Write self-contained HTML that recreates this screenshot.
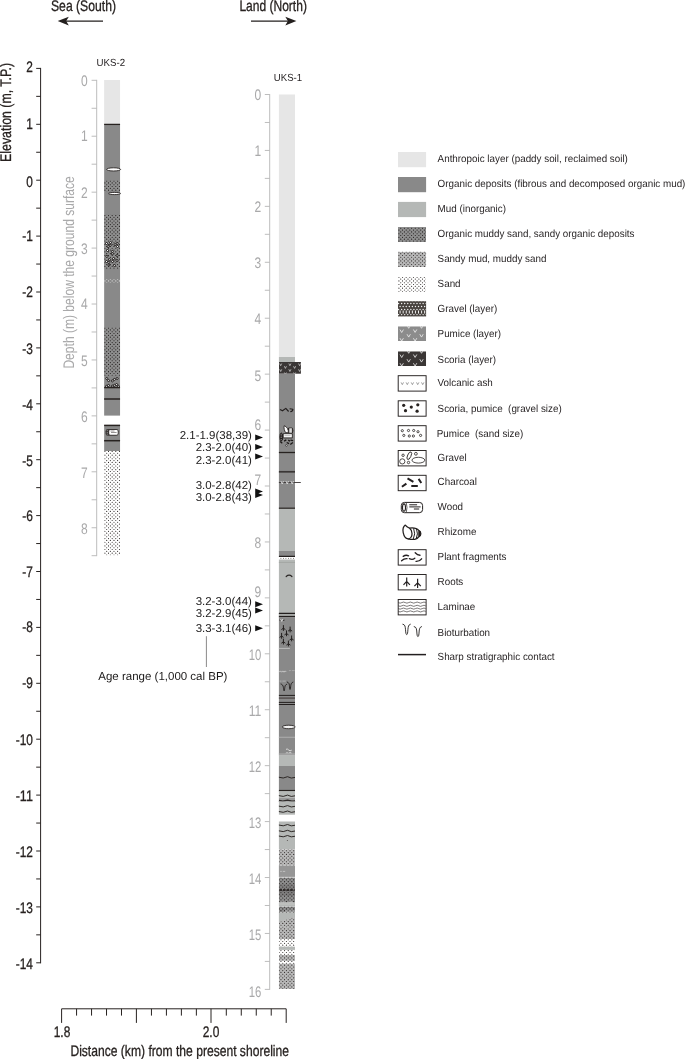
<!DOCTYPE html>
<html lang="en"><head><meta charset="utf-8"><title>UKS core columns</title>
<style>html,body{margin:0;padding:0;background:#fff}svg{display:block}text{font-family:"Liberation Sans",sans-serif}</style>
</head><body>
<svg width="685" height="1059" viewBox="0 0 685 1059" text-rendering="geometricPrecision">
<rect width="685" height="1059" fill="#fff"/>
<text x="51" y="10.7" font-size="15.3" fill="#272220" stroke="#272220" stroke-width="0.3" text-anchor="start" textLength="65" lengthAdjust="spacingAndGlyphs">Sea (South)</text>
<text x="239.4" y="10.7" font-size="15.3" fill="#272220" stroke="#272220" stroke-width="0.3" text-anchor="start" textLength="67.5" lengthAdjust="spacingAndGlyphs">Land (North)</text>
<path d="M103 21.1H64" stroke="#231f1e" stroke-width="1.3" fill="none"/><path d="M57.7 21.1L68.8 16.8L66.2 21.1L68.8 25.4Z" fill="#231f1e"/>
<path d="M251 21.1H290" stroke="#231f1e" stroke-width="1.3" fill="none"/><path d="M296.4 21.1L285.3 16.8L287.9 21.1L285.3 25.4Z" fill="#231f1e"/>
<path d="M40.6 67.9V963.3M36.2 68.40H40.6M36.2 96.35H40.6M36.2 124.30H40.6M36.2 152.25H40.6M36.2 180.20H40.6M36.2 208.15H40.6M36.2 236.10H40.6M36.2 264.05H40.6M36.2 292.00H40.6M36.2 319.95H40.6M36.2 347.90H40.6M36.2 375.85H40.6M36.2 403.80H40.6M36.2 431.75H40.6M36.2 459.70H40.6M36.2 487.65H40.6M36.2 515.60H40.6M36.2 543.55H40.6M36.2 571.50H40.6M36.2 599.45H40.6M36.2 627.40H40.6M36.2 655.35H40.6M36.2 683.30H40.6M36.2 711.25H40.6M36.2 739.20H40.6M36.2 767.15H40.6M36.2 795.10H40.6M36.2 823.05H40.6M36.2 851.00H40.6M36.2 878.95H40.6M36.2 906.90H40.6M36.2 934.85H40.6M36.2 962.80H40.6" stroke="#272220" stroke-width="1" fill="none"/>
<text x="32.9" y="72.0" font-size="15.3" fill="#272220" stroke="#272220" stroke-width="0.3" text-anchor="end" textLength="6.6" lengthAdjust="spacingAndGlyphs">2</text>
<text x="32.9" y="128.9" font-size="15.3" fill="#272220" stroke="#272220" stroke-width="0.3" text-anchor="end" textLength="6.6" lengthAdjust="spacingAndGlyphs">1</text>
<text x="32.9" y="186.6" font-size="15.3" fill="#272220" stroke="#272220" stroke-width="0.3" text-anchor="end" textLength="6.6" lengthAdjust="spacingAndGlyphs">0</text>
<text x="32.9" y="241.1" font-size="15.3" fill="#272220" stroke="#272220" stroke-width="0.3" text-anchor="end" textLength="10.6" lengthAdjust="spacingAndGlyphs">-1</text>
<text x="32.9" y="297.0" font-size="15.3" fill="#272220" stroke="#272220" stroke-width="0.3" text-anchor="end" textLength="10.6" lengthAdjust="spacingAndGlyphs">-2</text>
<text x="32.9" y="353.8" font-size="15.3" fill="#272220" stroke="#272220" stroke-width="0.3" text-anchor="end" textLength="10.6" lengthAdjust="spacingAndGlyphs">-3</text>
<text x="32.9" y="409.9" font-size="15.3" fill="#272220" stroke="#272220" stroke-width="0.3" text-anchor="end" textLength="10.6" lengthAdjust="spacingAndGlyphs">-4</text>
<text x="32.9" y="465.6" font-size="15.3" fill="#272220" stroke="#272220" stroke-width="0.3" text-anchor="end" textLength="10.6" lengthAdjust="spacingAndGlyphs">-5</text>
<text x="32.9" y="521.2" font-size="15.3" fill="#272220" stroke="#272220" stroke-width="0.3" text-anchor="end" textLength="10.6" lengthAdjust="spacingAndGlyphs">-6</text>
<text x="32.9" y="577.1" font-size="15.3" fill="#272220" stroke="#272220" stroke-width="0.3" text-anchor="end" textLength="10.6" lengthAdjust="spacingAndGlyphs">-7</text>
<text x="32.9" y="632.2" font-size="15.3" fill="#272220" stroke="#272220" stroke-width="0.3" text-anchor="end" textLength="10.6" lengthAdjust="spacingAndGlyphs">-8</text>
<text x="32.9" y="688.3" font-size="15.3" fill="#272220" stroke="#272220" stroke-width="0.3" text-anchor="end" textLength="10.6" lengthAdjust="spacingAndGlyphs">-9</text>
<text x="32.9" y="745.1" font-size="15.3" fill="#272220" stroke="#272220" stroke-width="0.3" text-anchor="end" textLength="17.2" lengthAdjust="spacingAndGlyphs">-10</text>
<text x="32.9" y="801.2" font-size="15.3" fill="#272220" stroke="#272220" stroke-width="0.3" text-anchor="end" textLength="17.2" lengthAdjust="spacingAndGlyphs">-11</text>
<text x="32.9" y="857.1" font-size="15.3" fill="#272220" stroke="#272220" stroke-width="0.3" text-anchor="end" textLength="17.2" lengthAdjust="spacingAndGlyphs">-12</text>
<text x="32.9" y="912.5" font-size="15.3" fill="#272220" stroke="#272220" stroke-width="0.3" text-anchor="end" textLength="17.2" lengthAdjust="spacingAndGlyphs">-13</text>
<text x="32.9" y="968.6" font-size="15.3" fill="#272220" stroke="#272220" stroke-width="0.3" text-anchor="end" textLength="17.2" lengthAdjust="spacingAndGlyphs">-14</text>
<text transform="translate(11.0 161.9) rotate(-90)" font-size="15.3" fill="#272220" stroke="#272220" stroke-width="0.3" textLength="99" lengthAdjust="spacingAndGlyphs">Elevation (m, T.P.)</text>
<path d="M61.6 1022.9V1008.8H286.2V1022.9M136.4 1008.8V1022.9M211 1008.8V1022.9M76.57 1008.8V1015.6M91.55 1008.8V1015.6M106.52 1008.8V1015.6M121.49 1008.8V1015.6M151.44 1008.8V1015.6M166.41 1008.8V1015.6M181.38 1008.8V1015.6M196.36 1008.8V1015.6M226.30 1008.8V1015.6M241.28 1008.8V1015.6M256.25 1008.8V1015.6M271.22 1008.8V1015.6" stroke="#272220" stroke-width="1" fill="none"/>
<text x="62" y="1037.1" font-size="15.3" fill="#272220" stroke="#272220" stroke-width="0.3" text-anchor="middle" textLength="16.6" lengthAdjust="spacingAndGlyphs">1.8</text>
<text x="211" y="1037.1" font-size="15.3" fill="#272220" stroke="#272220" stroke-width="0.3" text-anchor="middle" textLength="16.6" lengthAdjust="spacingAndGlyphs">2.0</text>
<text x="70.4" y="1055.8" font-size="15.3" fill="#272220" stroke="#272220" stroke-width="0.3" text-anchor="start" textLength="218.6" lengthAdjust="spacingAndGlyphs">Distance (km) from the present shoreline</text>
<path d="M96.7 79.89999999999999V556.1049999999999M91.6 80.30H96.7M91.6 108.27H96.7M91.6 136.23H96.7M91.6 164.19H96.7M91.6 192.16H96.7M91.6 220.12H96.7M91.6 248.09H96.7M91.6 276.06H96.7M91.6 304.02H96.7M91.6 331.99H96.7M91.6 359.95H96.7M91.6 387.92H96.7M91.6 415.88H96.7M91.6 443.85H96.7M91.6 471.81H96.7M91.6 499.78H96.7M91.6 527.74H96.7M91.6 555.70H96.7" stroke="#b5b5b6" stroke-width="0.9" fill="none"/>
<text x="87.6" y="85.5" font-size="15.3" fill="#a9a9aa" text-anchor="end" textLength="6.7" lengthAdjust="spacingAndGlyphs">0</text>
<text x="87.6" y="141.43" font-size="15.3" fill="#a9a9aa" text-anchor="end" textLength="6.7" lengthAdjust="spacingAndGlyphs">1</text>
<text x="87.6" y="197.56" font-size="15.3" fill="#a9a9aa" text-anchor="end" textLength="6.7" lengthAdjust="spacingAndGlyphs">2</text>
<text x="87.6" y="253.79" font-size="15.3" fill="#a9a9aa" text-anchor="end" textLength="6.7" lengthAdjust="spacingAndGlyphs">3</text>
<text x="87.6" y="309.42" font-size="15.3" fill="#a9a9aa" text-anchor="end" textLength="6.7" lengthAdjust="spacingAndGlyphs">4</text>
<text x="87.6" y="366.05" font-size="15.3" fill="#a9a9aa" text-anchor="end" textLength="6.7" lengthAdjust="spacingAndGlyphs">5</text>
<text x="87.6" y="422.28" font-size="15.3" fill="#a9a9aa" text-anchor="end" textLength="6.7" lengthAdjust="spacingAndGlyphs">6</text>
<text x="87.6" y="478.21" font-size="15.3" fill="#a9a9aa" text-anchor="end" textLength="6.7" lengthAdjust="spacingAndGlyphs">7</text>
<text x="87.6" y="533.64" font-size="15.3" fill="#a9a9aa" text-anchor="end" textLength="6.7" lengthAdjust="spacingAndGlyphs">8</text>
<text transform="translate(73.9 368.6) rotate(-90)" font-size="15.3" fill="#a9a9aa" textLength="192.4" lengthAdjust="spacingAndGlyphs">Depth (m) below the ground surface</text>
<text x="96.5" y="66.0" font-size="10.3" fill="#231f20" textLength="28.6" lengthAdjust="spacingAndGlyphs">UKS-2</text>
<path d="M269.7 94.1V989.78M264.8 94.50H269.7M264.8 122.47H269.7M264.8 150.43H269.7M264.8 178.39H269.7M264.8 206.36H269.7M264.8 234.32H269.7M264.8 262.29H269.7M264.8 290.25H269.7M264.8 318.22H269.7M264.8 346.19H269.7M264.8 374.15H269.7M264.8 402.12H269.7M264.8 430.08H269.7M264.8 458.05H269.7M264.8 486.01H269.7M264.8 513.98H269.7M264.8 541.94H269.7M264.8 569.90H269.7M264.8 597.87H269.7M264.8 625.84H269.7M264.8 653.80H269.7M264.8 681.76H269.7M264.8 709.73H269.7M264.8 737.70H269.7M264.8 765.66H269.7M264.8 793.62H269.7M264.8 821.59H269.7M264.8 849.55H269.7M264.8 877.52H269.7M264.8 905.49H269.7M264.8 933.45H269.7M264.8 961.41H269.7M264.8 989.38H269.7" stroke="#b5b5b6" stroke-width="0.9" fill="none"/>
<text x="261.3" y="99.9" font-size="15.3" fill="#a9a9aa" text-anchor="end" textLength="6.7" lengthAdjust="spacingAndGlyphs">0</text>
<text x="261.3" y="155.83" font-size="15.3" fill="#a9a9aa" text-anchor="end" textLength="6.7" lengthAdjust="spacingAndGlyphs">1</text>
<text x="261.3" y="212.26" font-size="15.3" fill="#a9a9aa" text-anchor="end" textLength="6.7" lengthAdjust="spacingAndGlyphs">2</text>
<text x="261.3" y="268.19" font-size="15.3" fill="#a9a9aa" text-anchor="end" textLength="6.7" lengthAdjust="spacingAndGlyphs">3</text>
<text x="261.3" y="323.92" font-size="15.3" fill="#a9a9aa" text-anchor="end" textLength="6.7" lengthAdjust="spacingAndGlyphs">4</text>
<text x="261.3" y="380.55" font-size="15.3" fill="#a9a9aa" text-anchor="end" textLength="6.7" lengthAdjust="spacingAndGlyphs">5</text>
<text x="261.3" y="429.98" font-size="15.3" fill="#a9a9aa" text-anchor="end" textLength="6.7" lengthAdjust="spacingAndGlyphs">6</text>
<text x="261.3" y="485.41" font-size="15.3" fill="#a9a9aa" text-anchor="end" textLength="6.7" lengthAdjust="spacingAndGlyphs">7</text>
<text x="261.3" y="547.84" font-size="15.3" fill="#a9a9aa" text-anchor="end" textLength="6.7" lengthAdjust="spacingAndGlyphs">8</text>
<text x="261.3" y="597.37" font-size="15.3" fill="#a9a9aa" text-anchor="end" textLength="6.7" lengthAdjust="spacingAndGlyphs">9</text>
<text x="261.3" y="659.7" font-size="15.3" fill="#a9a9aa" text-anchor="end" textLength="12.6" lengthAdjust="spacingAndGlyphs">10</text>
<text x="261.3" y="715.63" font-size="15.3" fill="#a9a9aa" text-anchor="end" textLength="12.6" lengthAdjust="spacingAndGlyphs">11</text>
<text x="261.3" y="771.56" font-size="15.3" fill="#a9a9aa" text-anchor="end" textLength="12.6" lengthAdjust="spacingAndGlyphs">12</text>
<text x="261.3" y="827.89" font-size="15.3" fill="#a9a9aa" text-anchor="end" textLength="12.6" lengthAdjust="spacingAndGlyphs">13</text>
<text x="261.3" y="884.02" font-size="15.3" fill="#a9a9aa" text-anchor="end" textLength="12.6" lengthAdjust="spacingAndGlyphs">14</text>
<text x="261.3" y="940.45" font-size="15.3" fill="#a9a9aa" text-anchor="end" textLength="12.6" lengthAdjust="spacingAndGlyphs">15</text>
<text x="261.3" y="996.98" font-size="15.3" fill="#a9a9aa" text-anchor="end" textLength="12.6" lengthAdjust="spacingAndGlyphs">16</text>
<text x="273.8" y="80.5" font-size="10.3" fill="#231f20" textLength="28.4" lengthAdjust="spacingAndGlyphs">UKS-1</text>
<g id="uks2">
<rect x="104.15" y="80.00" width="15.90" height="44.20" fill="#e6e6e6"/>
<rect x="104.15" y="124.20" width="15.90" height="291.40" fill="#898989"/>
<svg x="104.15" y="180.60" width="15.90" height="10.60" viewBox="104.15 180.60 15.90 10.60"><rect x="104.15" y="180.60" width="15.90" height="10.60" fill="#8e8e8e"/><path d="M101.27 179.25H121.05M103.09 181.06H121.05M101.27 182.88H121.05M103.09 184.70H121.05M101.27 186.51H121.05M103.09 188.33H121.05M101.27 190.14H121.05M103.09 191.96H121.05M101.27 193.77H121.05" fill="none" stroke="#1f1b1a" stroke-width="1.15" stroke-linecap="round" stroke-dasharray="0 3.63"/></svg>
<svg x="104.15" y="214.70" width="15.90" height="54.10" viewBox="104.15 214.70 15.90 54.10"><rect x="104.15" y="214.70" width="15.90" height="54.10" fill="#8e8e8e"/><path d="M101.27 211.92H121.05M103.09 213.74H121.05M101.27 215.55H121.05M103.09 217.37H121.05M101.27 219.18H121.05M103.09 221.00H121.05M101.27 222.81H121.05M103.09 224.62H121.05M101.27 226.44H121.05M103.09 228.26H121.05M101.27 230.07H121.05M103.09 231.89H121.05M101.27 233.70H121.05M103.09 235.52H121.05M101.27 237.33H121.05M103.09 239.15H121.05M101.27 240.96H121.05M103.09 242.78H121.05M101.27 244.59H121.05M103.09 246.41H121.05M101.27 248.22H121.05M103.09 250.04H121.05M101.27 251.85H121.05M103.09 253.67H121.05M101.27 255.48H121.05M103.09 257.30H121.05M101.27 259.11H121.05M103.09 260.93H121.05M101.27 262.74H121.05M103.09 264.56H121.05M101.27 266.37H121.05M103.09 268.19H121.05M101.27 270.00H121.05" fill="none" stroke="#1f1b1a" stroke-width="1.15" stroke-linecap="round" stroke-dasharray="0 3.63"/></svg>
<svg x="104.15" y="279.00" width="15.90" height="3.60" viewBox="104.15 279.00 15.90 3.60"><path d="M101.27 277.26H121.05M103.09 279.07H121.05M101.27 280.89H121.05M103.09 282.71H121.05M101.27 284.52H121.05" fill="none" stroke="#d8d8d8" stroke-width="1.3" stroke-linecap="round" stroke-dasharray="0 3.63"/></svg>
<svg x="104.15" y="327.40" width="15.90" height="48.40" viewBox="104.15 327.40 15.90 48.40"><rect x="104.15" y="327.40" width="15.90" height="48.40" fill="#8e8e8e"/><path d="M103.09 326.26H121.05M101.27 328.08H121.05M103.09 329.89H121.05M101.27 331.71H121.05M103.09 333.52H121.05M101.27 335.34H121.05M103.09 337.15H121.05M101.27 338.97H121.05M103.09 340.79H121.05M101.27 342.60H121.05M103.09 344.42H121.05M101.27 346.23H121.05M103.09 348.05H121.05M101.27 349.86H121.05M103.09 351.68H121.05M101.27 353.49H121.05M103.09 355.31H121.05M101.27 357.12H121.05M103.09 358.94H121.05M101.27 360.75H121.05M103.09 362.56H121.05M101.27 364.38H121.05M103.09 366.19H121.05M101.27 368.01H121.05M103.09 369.83H121.05M101.27 371.64H121.05M103.09 373.46H121.05M101.27 375.27H121.05M103.09 377.09H121.05" fill="none" stroke="#1f1b1a" stroke-width="1.15" stroke-linecap="round" stroke-dasharray="0 3.63"/></svg>
<path d="M104.15 124.40H120.05" stroke="#272220" stroke-width="1.3" fill="none"/>
<ellipse cx="113.6" cy="169.4" rx="7.0" ry="1.6" fill="#fff" stroke="#2a2625" stroke-width="0.9"/>
<ellipse cx="114.5" cy="193.5" rx="6.1" ry="1.1" fill="#fff" stroke="#2a2625" stroke-width="0.9"/>
<g fill="#fff" stroke="#1c1817" stroke-width="1.0"><circle cx="106.5" cy="243.5" r="1.0"/><circle cx="110.5" cy="242.6" r="1.0"/><circle cx="110.2" cy="245.3" r="1.0"/><circle cx="108.2" cy="246.6" r="1.0"/><circle cx="115.1" cy="244.6" r="1.0"/><circle cx="117.2" cy="243.5" r="1.0"/><circle cx="117.5" cy="246.5" r="1.0"/><circle cx="107.5" cy="250.5" r="1.0"/><circle cx="112.3" cy="251.5" r="1.0"/><circle cx="112.4" cy="253.8" r="1.0"/><circle cx="106.9" cy="256.4" r="1.0"/><circle cx="117.1" cy="255.5" r="1.0"/><circle cx="113.5" cy="258.6" r="1.0"/><circle cx="109.4" cy="259.7" r="1.0"/><circle cx="117.0" cy="260.5" r="1.0"/><circle cx="106.5" cy="261.5" r="1.0"/><circle cx="112.6" cy="261.5" r="1.0"/><circle cx="108.8" cy="262.5" r="1.0"/><circle cx="108.9" cy="265.0" r="1.0"/><circle cx="114.4" cy="265.4" r="1.0"/></g>
<g fill="#fff" stroke="#1c1817" stroke-width="1.0"><circle cx="106.75" cy="378.5" r="1.0"/><circle cx="108.6" cy="380.6" r="1.0"/><circle cx="112.4" cy="380.9" r="1.0"/><circle cx="114.4" cy="379.4" r="1.0"/><circle cx="117.1" cy="378.5" r="1.0"/><circle cx="106.5" cy="386.3" r="1.0"/><circle cx="108.5" cy="385.4" r="1.0"/><circle cx="112.4" cy="386.1" r="1.0"/><circle cx="114.4" cy="385.3" r="1.0"/><circle cx="116.6" cy="384.5" r="1.0"/><circle cx="118.4" cy="386.3" r="1.0"/></g>
<path d="M104.15 387.60H120.05" stroke="#272220" stroke-width="1.4" fill="none"/>
<path d="M104.15 399.00H120.05" stroke="#272220" stroke-width="1.5" fill="none"/>
<rect x="104.15" y="425.00" width="15.90" height="26.00" fill="#898989"/>
<path d="M104.15 425.40H120.05" stroke="#272220" stroke-width="1.5" fill="none"/>
<path d="M104.15 440.70H120.05" stroke="#272220" stroke-width="1.5" fill="none"/>
<rect x="105.600" y="428.900" width="13.000" height="6.900" rx="2.400" fill="#3a3635"/><rect x="109.200" y="429.900" width="8.500" height="4.900" rx="1.000" fill="#fff"/><path d="M110.500 431.000H114.500M111.000 432.500H116.600" stroke="#6a6665" stroke-width="0.7" fill="none"/><path d="M107.300 430.300V434.600" stroke="#bdbdbd" stroke-width="0.8" stroke-dasharray="0.8 0.9" fill="none"/>
<svg x="104.15" y="450.90" width="15.90" height="104.40" viewBox="104.15 450.90 15.90 104.40"><rect x="104.15" y="450.90" width="15.90" height="104.40" fill="#fff"/><path d="M103.09 449.69H121.05M101.27 451.50H121.05M103.09 453.31H121.05M101.27 455.13H121.05M103.09 456.94H121.05M101.27 458.76H121.05M103.09 460.58H121.05M101.27 462.39H121.05M103.09 464.21H121.05M101.27 466.02H121.05M103.09 467.84H121.05M101.27 469.65H121.05M103.09 471.47H121.05M101.27 473.28H121.05M103.09 475.10H121.05M101.27 476.91H121.05M103.09 478.73H121.05M101.27 480.54H121.05M103.09 482.36H121.05M101.27 484.17H121.05M103.09 485.99H121.05M101.27 487.80H121.05M103.09 489.62H121.05M101.27 491.43H121.05M103.09 493.25H121.05M101.27 495.06H121.05M103.09 496.88H121.05M101.27 498.69H121.05M103.09 500.50H121.05M101.27 502.32H121.05M103.09 504.13H121.05M101.27 505.95H121.05M103.09 507.76H121.05M101.27 509.58H121.05M103.09 511.39H121.05M101.27 513.21H121.05M103.09 515.02H121.05M101.27 516.84H121.05M103.09 518.65H121.05M101.27 520.47H121.05M103.09 522.29H121.05M101.27 524.10H121.05M103.09 525.91H121.05M101.27 527.73H121.05M103.09 529.55H121.05M101.27 531.36H121.05M103.09 533.17H121.05M101.27 534.99H121.05M103.09 536.81H121.05M101.27 538.62H121.05M103.09 540.43H121.05M101.27 542.25H121.05M103.09 544.07H121.05M101.27 545.88H121.05M103.09 547.69H121.05M101.27 549.51H121.05M103.09 551.33H121.05M101.27 553.14H121.05M103.09 554.95H121.05M101.27 556.77H121.05" fill="none" stroke="#2b2625" stroke-width="1.12" stroke-linecap="round" stroke-dasharray="0 3.63"/></svg>
</g>
<g id="uks1">
<rect x="278.90" y="94.50" width="16.10" height="262.60" fill="#e6e6e6"/>
<rect x="278.90" y="357.00" width="16.10" height="5.20" fill="#b5b8b6"/>
<rect x="278.90" y="374.00" width="16.10" height="134.50" fill="#898989"/>
<rect x="279.00" y="362.00" width="21.90" height="11.70" fill="#3a3635"/>
<svg x="279" y="362" width="21.9" height="11.7" viewBox="279 362 21.9 11.7"><path d="M279.65 363.50L280.70 365.70L281.75 363.50M288.85 363.50L289.90 365.70L290.95 363.50M298.55 363.50L299.60 365.70L300.65 363.50M284.35 366.20L285.40 368.40L286.45 366.20M293.55 366.20L294.60 368.40L295.65 366.20M279.65 369.30L280.70 371.50L281.75 369.30M288.85 369.30L289.90 371.50L290.95 369.30M298.55 369.30L299.60 371.50L300.65 369.30M284.35 372.50L285.40 374.70L286.45 372.50M293.55 372.50L294.60 374.70L295.65 372.50" fill="none" stroke="#e4e4e4" stroke-width="0.65"/></svg>
<path d="M280.0 409.4L282.5 410.8L285.8 408.4L288.6 411.5M289.6 408.7L292.9 409.2Q293 411 290.3 411.8" fill="none" stroke="#231f1e" stroke-width="1.15" stroke-linejoin="round"/>
<g stroke="#231f1e" stroke-width="0.85" fill="#fff" stroke-linejoin="round"><path d="M288.6 428.0L292.2 428.0Q293.6 430.4 292.4 432.9L288.4 432.9Z" fill="#231f1e"/><path d="M289.3 428.3h2.6v4.4h-2.6z" stroke="none"/><path d="M289.9 428.3v4.4M290.8 428.3v4.4M291.6 428.3v4.4" fill="none" stroke="#8a8a8a" stroke-width="0.35"/><path d="M284.2 425.7C286.6 426.4 288.7 429.4 288.4 432.8L285.6 432.6C284.3 430.6 283.7 428 284.2 425.700Z"/><ellipse cx="281.3" cy="437.0" rx="1.4" ry="4.1" fill="#231f1e"/><path d="M281.2 433.9V440.4" fill="none" stroke="#fff" stroke-width="0.7" stroke-dasharray="0.7 1.0"/><rect x="283.2" y="433.7" width="9.1" height="4.2" stroke-width="0.9"/><path d="M284.4 435.7H290.6" fill="none" stroke="#777" stroke-width="0.5"/><circle cx="286.4" cy="445.5" r="0.85" stroke-width="0.7"/></g>
<path d="M280.1 441.5L282.3 443.2M284.1 441.1L286.3 439.9M286.7 442.5L289.1 443.7M288.2 440.1L290.0 441.1M290.3 444.4L292.9 442.5M290.5 440.1L293.1 440.600" fill="none" stroke="#1c1817" stroke-width="1.3"/>
<path d="M278.90 452.50H295.00" stroke="#272220" stroke-width="1.3" fill="none"/>
<path d="M278.90 471.80H295.00" stroke="#3a3635" stroke-width="1.7" fill="none"/>
<path d="M278.90 482.50H300.80" stroke="#3a3635" stroke-width="0.9" fill="none"/>
<path d="M280.900 481.000l1.300 3.000l1.300-3.000M285.900 481.000l1.300 3.000l1.300-3.000M290.900 481.000l1.300 3.000l1.300-3.000" fill="none" stroke="#e6e6e6" stroke-width="0.8"/>
<path d="M278.90 508.30H295.00" stroke="#272220" stroke-width="1.4" fill="none"/>
<rect x="278.90" y="508.80" width="16.10" height="43.00" fill="#b5b8b6"/>
<rect x="278.90" y="551.00" width="16.10" height="5.20" fill="#898989"/>
<path d="M278.90 556.40H295.00" stroke="#231f1e" stroke-width="1.3" fill="none"/>
<rect x="278.90" y="557.00" width="16.10" height="2.50" fill="#fff"/>
<path d="M280.5 558.400H294" stroke="#272220" stroke-width="0.7" stroke-dasharray="0.8 1.700" fill="none"/>
<rect x="278.90" y="559.50" width="16.10" height="53.50" fill="#b5b8b6"/>
<path d="M278.90 562.40H295.00" stroke="#a2a4a2" stroke-width="0.9" fill="none"/>
<path d="M286.200 576.500q2.900-2.600 5.700 0" fill="none" stroke="#2a2625" stroke-width="1.2" stroke-linecap="round"/>
<rect x="278.90" y="613.00" width="16.10" height="141.50" fill="#898989"/>
<rect x="278.90" y="613.00" width="16.10" height="3.60" fill="#b0b2b0"/>
<rect x="278.90" y="616.80" width="16.10" height="1.20" fill="#a2a2a2"/>
<path d="M278.90 613.40H295.00" stroke="#231f1e" stroke-width="1.3" fill="none"/>
<path d="M278.90 616.50H295.00" stroke="#231f1e" stroke-width="1.3" fill="none"/>
<path d="M279.3 620.0l1.2 .5M283.0 620.5l1.600-.4" fill="none" stroke="#231f1e" stroke-width="0.8"/><path d="M280.7 619.1l1 2.300l1.100-2.400" fill="none" stroke="#eee" stroke-width="0.7"/>
<path d="M283.4 625.0999999999999V630.9M281.4 629.5999999999999L283.4 628.1999999999999L285.4 629.5999999999999M290.1 626.5999999999999V632.4M288.1 631.0999999999999L290.1 629.6999999999999L292.1 631.0999999999999M286.5 630.4V636.2M284.5 634.9L286.5 633.5L288.5 634.9M281.6 632.9V638.7M279.6 637.4L281.6 636.0L283.6 637.4M291.6 635.5V641.3000000000001M289.6 640.0L291.6 638.6L293.6 640.0M283.4 638.6999999999999V644.5M281.4 643.1999999999999L283.4 641.8L285.4 643.1999999999999M288.4 640.5999999999999V646.4M286.4 645.0999999999999L288.4 643.6999999999999L290.4 645.0999999999999" fill="none" stroke="#231f1e" stroke-width="1.0"/>
<path d="M278.90 648.40H289.90" stroke="#c2c2c2" stroke-width="0.9" fill="none"/>
<path d="M279.2 672.2l1.2-1.300l1.200 1.300l1.200-1.300l1.200 1.300l1.200-1.300l1 1" fill="none" stroke="#e2e2e2" stroke-width="0.7"/><path d="M288.9 670.600h2M291.800 670.600h3" fill="none" stroke="#b4b4b4" stroke-width="0.7"/>
<path d="M279.5 681.100h2M282.400 681.100h3.400" fill="none" stroke="#c8c8c8" stroke-width="0.6"/>
<path d="M281.0 684.000c1.500 .3 2.100 1.600 2.400 3.400c.3 1.800 .300 3.500 .700 3.500c.500 0 .400-1.700 .700-3.500c.300-1.800 .700-2.900 2.000-3.200M287.200 682.000c1.500 .3 2.000 1.600 2.200 3.300c.200 2.000 .200 4.200 .600 4.200c.500 0 .500-2.200 .800-4.100c.300-1.700 .800-2.900 2.100-3.300" fill="none" stroke="#231f1e" stroke-width="0.95" stroke-linecap="round"/>
<path d="M278.90 695.40H295.00" stroke="#231f1e" stroke-width="1.0" fill="none"/>
<path d="M278.90 698.10H295.00" stroke="#55504f" stroke-width="1.5" fill="none"/>
<path d="M278.90 702.40H295.00" stroke="#231f1e" stroke-width="1.0" fill="none"/>
<path d="M278.90 704.50H295.00" stroke="#231f1e" stroke-width="1.0" fill="none"/>
<ellipse cx="288.700" cy="726.950" rx="6.500" ry="1.750" fill="#f2f2f2" stroke="#2a2625" stroke-width="0.9"/>
<path d="M278.90 737.30H295.00" stroke="#a9a9a9" stroke-width="1.2" fill="none"/>
<path d="M286.000 749.300q1.500-.8 2.700 .7t3.000 .2" fill="none" stroke="#e4e4e4" stroke-width="0.9"/>
<path d="M285.200 753.600q1.700-2.600 3.400-.6q1.700-2.200 3.600 .6z" fill="#d0d0d0"/>
<path d="M278.90 753.90H295.00" stroke="#a8a8a8" stroke-width="1.0" fill="none"/>
<rect x="278.90" y="754.40" width="16.10" height="1.20" fill="#909090"/>
<rect x="278.90" y="755.40" width="16.10" height="10.70" fill="#b5b8b6"/>
<rect x="278.90" y="766.00" width="16.10" height="24.40" fill="#898989"/>
<path d="M278.90 777.24Q283.23 779.04 287.55 776.70Q291.27 779.04 295.00 777.42" fill="none" stroke="#272220" stroke-width="0.95"/>
<path d="M278.90 790.70H295.00" stroke="#272220" stroke-width="1.6" fill="none"/>
<rect x="278.90" y="791.20" width="16.10" height="6.50" fill="#b5b8b6"/>
<path d="M278.90 795.64Q283.23 797.44 287.55 795.10Q291.27 797.44 295.00 795.82" fill="none" stroke="#272220" stroke-width="0.95"/>
<rect x="278.90" y="797.60" width="16.10" height="2.60" fill="#9a9a9a"/>
<path d="M278.90 800.70Q283.23 801.70 287.55 800.40Q291.27 801.70 295.00 800.80" fill="none" stroke="#2f2b2a" stroke-width="1.8"/>
<rect x="278.90" y="801.40" width="16.10" height="13.30" fill="#b5b8b6"/>
<path d="M278.90 806.14Q283.23 807.94 287.55 805.60Q291.27 807.94 295.00 806.32M278.90 811.54Q283.23 813.34 287.55 811.00Q291.27 813.34 295.00 811.72" fill="none" stroke="#272220" stroke-width="0.95"/>
<rect x="278.90" y="821.50" width="16.10" height="27.80" fill="#b5b8b6"/>
<path d="M278.90 825.04Q283.23 826.84 287.55 824.50Q291.27 826.84 295.00 825.22M278.90 830.84Q283.23 832.64 287.55 830.30Q291.27 832.64 295.00 831.02M278.90 836.04Q283.23 837.84 287.55 835.50Q291.27 837.84 295.00 836.22" fill="none" stroke="#272220" stroke-width="0.95"/>
<circle cx="287.400" cy="840.500" r="0.6" fill="#5a5655"/>
<svg x="278.90" y="849.30" width="16.10" height="16.20" viewBox="278.90 849.30 16.10 16.20"><rect x="278.90" y="849.30" width="16.10" height="16.20" fill="#b8b8b8"/><path d="M275.51 847.17H296.00M277.32 848.98H296.00M275.51 850.80H296.00M277.32 852.62H296.00M275.51 854.43H296.00M277.32 856.24H296.00M275.51 858.06H296.00M277.32 859.88H296.00M275.51 861.69H296.00M277.32 863.50H296.00M275.51 865.32H296.00M277.32 867.13H296.00" fill="none" stroke="#2b2625" stroke-width="1.12" stroke-linecap="round" stroke-dasharray="0 3.63"/></svg>
<rect x="278.90" y="865.50" width="16.10" height="11.50" fill="#969696"/>
<path d="M280.200 871.400h1.600M282.800 871.400h2.400" stroke="#ddd" stroke-width="0.6" fill="none"/>
<path d="M278.90 877.00H295.00" stroke="#b8b8b8" stroke-width="0.6" fill="none"/>
<svg x="278.90" y="877.40" width="16.10" height="25.40" viewBox="278.90 877.40 16.10 25.40"><rect x="278.90" y="877.40" width="16.10" height="25.40" fill="#8e8e8e"/><path d="M275.51 876.21H296.00M277.32 878.03H296.00M275.51 879.84H296.00M277.32 881.65H296.00M275.51 883.47H296.00M277.32 885.29H296.00M275.51 887.10H296.00M277.32 888.91H296.00M275.51 890.73H296.00M277.32 892.55H296.00M275.51 894.36H296.00M277.32 896.17H296.00M275.51 897.99H296.00M277.32 899.81H296.00M275.51 901.62H296.00M277.32 903.43H296.00M275.51 905.25H296.00" fill="none" stroke="#1f1b1a" stroke-width="1.15" stroke-linecap="round" stroke-dasharray="0 3.63"/></svg>
<rect x="278.90" y="884.00" width="16.10" height="12.00" fill="#5a5655" opacity="0.28"/>
<path d="M279.400 890H294.600" stroke="#2f2b2a" stroke-width="2" stroke-dasharray="2.600 1" fill="none"/>
<path d="M281 902.200q2-1.600 4 0zM288 902.400q2.400-1.800 5 0z" fill="#cfcfcf"/>
<rect x="278.90" y="902.80" width="16.10" height="3.60" fill="#b5b8b6"/>
<path d="M278.90 904.00H295.00" stroke="#d0d0d0" stroke-width="0.6" fill="none"/>
<svg x="278.90" y="906.40" width="16.10" height="6.30" viewBox="278.90 906.40 16.10 6.30"><rect x="278.90" y="906.40" width="16.10" height="6.30" fill="#8e8e8e"/><path d="M275.51 905.25H296.00M277.32 907.07H296.00M275.51 908.88H296.00M277.32 910.69H296.00M275.51 912.51H296.00M277.32 914.33H296.00" fill="none" stroke="#1f1b1a" stroke-width="1.15" stroke-linecap="round" stroke-dasharray="0 3.63"/></svg>
<path d="M285.00 911.00H295.00" stroke="#c8c8c8" stroke-width="0.6" fill="none"/>
<rect x="278.90" y="912.70" width="16.10" height="9.40" fill="#b5b8b6"/>
<clipPath id="cpd"><path d="M278.9 922L295.0 916.600V939H278.9Z"/></clipPath><g clip-path="url(#cpd)"><svg x="278.90" y="916.00" width="16.10" height="23.00" viewBox="278.90 916.00 16.10 23.00"><rect x="278.90" y="916.00" width="16.10" height="23.00" fill="#b8b8b8"/><path d="M277.32 914.33H296.00M275.51 916.14H296.00M277.32 917.95H296.00M275.51 919.77H296.00M277.32 921.59H296.00M275.51 923.40H296.00M277.32 925.21H296.00M275.51 927.03H296.00M277.32 928.85H296.00M275.51 930.66H296.00M277.32 932.47H296.00M275.51 934.29H296.00M277.32 936.11H296.00M275.51 937.92H296.00M277.32 939.73H296.00M275.51 941.55H296.00" fill="none" stroke="#2b2625" stroke-width="1.12" stroke-linecap="round" stroke-dasharray="0 3.63"/></svg></g>
<path d="M278.9 922L295.0 916.600" stroke="#c4c4c4" stroke-width="0.4" fill="none"/>
<path d="M278.9 925.800L295.0 929.600" stroke="#c0c0c0" stroke-width="0.7" fill="none"/>
<svg x="278.90" y="939.00" width="16.10" height="7.80" viewBox="278.90 939.00 16.10 7.80"><rect x="278.90" y="939.00" width="16.10" height="7.80" fill="#fff"/><path d="M275.51 937.92H296.00M277.32 939.73H296.00M275.51 941.55H296.00M277.32 943.37H296.00M275.51 945.18H296.00M277.32 946.99H296.00M275.51 948.81H296.00" fill="none" stroke="#2b2625" stroke-width="1.12" stroke-linecap="round" stroke-dasharray="0 3.63"/></svg>
<rect x="278.90" y="946.70" width="16.10" height="3.20" fill="#b5b8b6"/>
<svg x="278.90" y="949.90" width="16.10" height="5.20" viewBox="278.90 949.90 16.10 5.20"><rect x="278.90" y="949.90" width="16.10" height="5.20" fill="#fff"/><path d="M275.51 948.81H296.00M277.32 950.62H296.00M275.51 952.44H296.00M277.32 954.25H296.00M275.51 956.07H296.00M277.32 957.88H296.00" fill="none" stroke="#2b2625" stroke-width="1.12" stroke-linecap="round" stroke-dasharray="0 3.63"/></svg>
<svg x="278.90" y="955.00" width="16.10" height="5.90" viewBox="278.90 955.00 16.10 5.90"><rect x="278.90" y="955.00" width="16.10" height="5.90" fill="#b8b8b8"/><path d="M275.51 952.44H296.00M277.32 954.25H296.00M275.51 956.07H296.00M277.32 957.88H296.00M275.51 959.70H296.00M277.32 961.52H296.00M275.51 963.33H296.00" fill="none" stroke="#2b2625" stroke-width="1.12" stroke-linecap="round" stroke-dasharray="0 3.63"/></svg>
<svg x="278.90" y="960.90" width="16.10" height="2.70" viewBox="278.90 960.90 16.10 2.70"><rect x="278.90" y="960.90" width="16.10" height="2.70" fill="#fff"/><path d="M275.51 959.70H296.00M277.32 961.52H296.00M275.51 963.33H296.00M277.32 965.14H296.00" fill="none" stroke="#2b2625" stroke-width="1.12" stroke-linecap="round" stroke-dasharray="0 3.63"/></svg>
<svg x="278.90" y="963.50" width="16.10" height="25.40" viewBox="278.90 963.50 16.10 25.40"><rect x="278.90" y="963.50" width="16.10" height="25.40" fill="#b8b8b8"/><path d="M277.32 961.52H296.00M275.51 963.33H296.00M277.32 965.14H296.00M275.51 966.96H296.00M277.32 968.78H296.00M275.51 970.59H296.00M277.32 972.40H296.00M275.51 974.22H296.00M277.32 976.04H296.00M275.51 977.85H296.00M277.32 979.66H296.00M275.51 981.48H296.00M277.32 983.30H296.00M275.51 985.11H296.00M277.32 986.92H296.00M275.51 988.74H296.00M277.32 990.56H296.00" fill="none" stroke="#2b2625" stroke-width="1.12" stroke-linecap="round" stroke-dasharray="0 3.63"/></svg>
</g>
<text x="251.9" y="438.6" font-size="11.5" fill="#1c1a1a" text-anchor="end">2.1-1.9(38,39)</text>
<text x="251.9" y="450.8" font-size="11.5" fill="#1c1a1a" text-anchor="end">2.3-2.0(40)</text>
<text x="251.9" y="463.9" font-size="11.5" fill="#1c1a1a" text-anchor="end">2.3-2.0(41)</text>
<text x="251.9" y="488.7" font-size="11.5" fill="#1c1a1a" text-anchor="end">3.0-2.8(42)</text>
<text x="251.9" y="500.7" font-size="11.5" fill="#1c1a1a" text-anchor="end">3.0-2.8(43)</text>
<text x="251.9" y="605.1" font-size="11.5" fill="#1c1a1a" text-anchor="end">3.2-3.0(44)</text>
<text x="251.9" y="616.9" font-size="11.5" fill="#1c1a1a" text-anchor="end">3.2-2.9(45)</text>
<text x="251.9" y="632.2" font-size="11.5" fill="#1c1a1a" text-anchor="end">3.3-3.1(46)</text>
<path d="M255.200 434.60L263 437.60L255.200 440.60ZM255.200 444.00L263 447.00L255.200 450.00ZM255.200 453.60L263 456.60L255.200 459.60ZM255.200 488.60L263 491.60L255.200 494.60ZM255.200 492.00L263 495.00L255.200 498.00ZM255.200 601.30L263 604.30L255.200 607.30ZM255.200 607.40L263 610.40L255.200 613.40ZM255.200 625.20L263 628.20L255.200 631.20Z" fill="#111"/>
<path d="M206.400 636.200V667" stroke="#595757" stroke-width="0.7" fill="none"/>
<text x="98.300" y="680.400" font-size="11.5" fill="#1c1a1a">Age range (1,000 cal BP)</text>
<g id="legend">
<text x="437.6" y="162.40" font-size="10.3" fill="#231f20" textLength="190.3" lengthAdjust="spacingAndGlyphs" xml:space="preserve">Anthropoic layer (paddy soil, reclaimed soil)</text>
<text x="437.6" y="187.10" font-size="10.3" fill="#231f20" textLength="247.8" lengthAdjust="spacingAndGlyphs" xml:space="preserve">Organic deposits (fibrous and decomposed organic mud)</text>
<text x="437.6" y="211.90" font-size="10.3" fill="#231f20" textLength="68.4" lengthAdjust="spacingAndGlyphs" xml:space="preserve">Mud (inorganic)</text>
<text x="437.6" y="236.70" font-size="10.3" fill="#231f20" textLength="196.9" lengthAdjust="spacingAndGlyphs" xml:space="preserve">Organic muddy sand, sandy organic deposits</text>
<text x="437.6" y="261.50" font-size="10.3" fill="#231f20" textLength="108.8" lengthAdjust="spacingAndGlyphs" xml:space="preserve">Sandy mud, muddy sand</text>
<text x="437.6" y="286.70" font-size="10.3" fill="#231f20" textLength="23.0" lengthAdjust="spacingAndGlyphs" xml:space="preserve">Sand</text>
<text x="437.6" y="311.60" font-size="10.3" fill="#231f20" textLength="59.6" lengthAdjust="spacingAndGlyphs" xml:space="preserve">Gravel (layer)</text>
<text x="437.6" y="337.40" font-size="10.3" fill="#231f20" textLength="63.4" lengthAdjust="spacingAndGlyphs" xml:space="preserve">Pumice (layer)</text>
<text x="437.6" y="362.60" font-size="10.3" fill="#231f20" textLength="58.5" lengthAdjust="spacingAndGlyphs" xml:space="preserve">Scoria (layer)</text>
<text x="437.6" y="385.80" font-size="10.3" fill="#231f20" textLength="55.2" lengthAdjust="spacingAndGlyphs" xml:space="preserve">Volcanic ash</text>
<text x="437.6" y="411.70" font-size="10.3" fill="#231f20" textLength="124.1" lengthAdjust="spacingAndGlyphs" xml:space="preserve">Scoria, pumice  (gravel size)</text>
<text x="436.8" y="436.50" font-size="10.3" fill="#231f20" textLength="86.4" lengthAdjust="spacingAndGlyphs" xml:space="preserve">Pumice  (sand size)</text>
<text x="437.6" y="461.00" font-size="10.3" fill="#231f20" textLength="29.0" lengthAdjust="spacingAndGlyphs" xml:space="preserve">Gravel</text>
<text x="437.6" y="485.30" font-size="10.3" fill="#231f20" textLength="39.4" lengthAdjust="spacingAndGlyphs" xml:space="preserve">Charcoal</text>
<text x="437.6" y="510.20" font-size="10.3" fill="#231f20" textLength="25.5" lengthAdjust="spacingAndGlyphs" xml:space="preserve">Wood</text>
<text x="437.6" y="535.00" font-size="10.3" fill="#231f20" textLength="38.8" lengthAdjust="spacingAndGlyphs" xml:space="preserve">Rhizome</text>
<text x="437.6" y="559.80" font-size="10.3" fill="#231f20" textLength="68.9" lengthAdjust="spacingAndGlyphs" xml:space="preserve">Plant fragments</text>
<text x="437.6" y="584.75" font-size="10.3" fill="#231f20" textLength="25.7" lengthAdjust="spacingAndGlyphs" xml:space="preserve">Roots</text>
<text x="437.6" y="609.50" font-size="10.3" fill="#231f20" textLength="37.7" lengthAdjust="spacingAndGlyphs" xml:space="preserve">Laminae</text>
<text x="437.6" y="635.80" font-size="10.3" fill="#231f20" textLength="52.5" lengthAdjust="spacingAndGlyphs" xml:space="preserve">Bioturbation</text>
<text x="437.6" y="659.80" font-size="10.3" fill="#231f20" textLength="117.0" lengthAdjust="spacingAndGlyphs" xml:space="preserve">Sharp stratigraphic contact</text>
<rect x="398.00" y="152.00" width="28.10" height="15.20" fill="#e6e6e6"/>
<rect x="398.00" y="177.00" width="28.10" height="15.20" fill="#898989"/>
<rect x="398.00" y="201.90" width="28.10" height="15.20" fill="#b5b8b6"/>
<svg x="398.00" y="226.90" width="28.10" height="15.20" viewBox="398.00 226.90 28.10 15.20"><rect x="398.00" y="226.90" width="28.10" height="15.20" fill="#8e8e8e"/><path d="M393.49 224.62H427.10M395.30 226.44H427.10M393.49 228.26H427.10M395.30 230.07H427.10M393.49 231.89H427.10M395.30 233.70H427.10M393.49 235.52H427.10M395.30 237.33H427.10M393.49 239.15H427.10M395.30 240.96H427.10M393.49 242.78H427.10M395.30 244.59H427.10" fill="none" stroke="#1f1b1a" stroke-width="1.15" stroke-linecap="round" stroke-dasharray="0 3.63"/></svg>
<svg x="398.00" y="251.70" width="28.10" height="15.20" viewBox="398.00 251.70 28.10 15.20"><rect x="398.00" y="251.70" width="28.10" height="15.20" fill="#b8b8b8"/><path d="M393.49 250.04H427.10M395.30 251.85H427.10M393.49 253.67H427.10M395.30 255.48H427.10M393.49 257.30H427.10M395.30 259.11H427.10M393.49 260.93H427.10M395.30 262.74H427.10M393.49 264.56H427.10M395.30 266.37H427.10M393.49 268.19H427.10" fill="none" stroke="#2b2625" stroke-width="1.12" stroke-linecap="round" stroke-dasharray="0 3.63"/></svg>
<svg x="398.00" y="276.90" width="28.10" height="15.20" viewBox="398.00 276.90 28.10 15.20"><rect x="398.00" y="276.90" width="28.10" height="15.20" fill="#fff"/><path d="M393.49 275.44H427.10M395.30 277.26H427.10M393.49 279.07H427.10M395.30 280.89H427.10M393.49 282.71H427.10M395.30 284.52H427.10M393.49 286.34H427.10M395.30 288.15H427.10M393.49 289.97H427.10M395.30 291.78H427.10M393.49 293.60H427.10" fill="none" stroke="#2b2625" stroke-width="1.12" stroke-linecap="round" stroke-dasharray="0 3.63"/></svg>
<rect x="398.00" y="301.20" width="28.10" height="15.20" fill="#48433f"/>
<svg x="398.0" y="301.20" width="28.1" height="15.2" viewBox="398.0 301.20 28.1 15.2"><path d="M398.57 303.4H427M400.1 306.45H427M398.57 309.5H427M398.57 314.6H427" fill="none" stroke="#f2f2f2" stroke-width="1.45" stroke-linecap="round" stroke-dasharray="0 3.07"/><path d="M400.1 301.3H427M398.57 316.4H427" fill="none" stroke="#9d9896" stroke-width="1.2" stroke-linecap="round" stroke-dasharray="0 3.07"/><path d="M399.6 312.0H427" fill="none" stroke="#f0f0f0" stroke-width="2.9" stroke-dasharray="1.0 2.07"/></svg>
<svg x="398.0" y="326.30" width="28.1" height="14.6" viewBox="398.0 326.30 28.1 14.6"><rect x="398.0" y="326.30" width="28.1" height="15.2" fill="#8c8c8c"/><path d="M407.00 325.40L408.70 328.30L410.40 325.40M419.80 325.40L421.50 328.30L423.20 325.40M400.00 329.60L401.70 332.50L403.40 329.60M413.40 329.50L415.10 332.40L416.80 329.50M407.00 334.20L408.70 337.10L410.40 334.20M419.80 334.20L421.50 337.10L423.20 334.20M400.00 338.20L401.70 341.10L403.40 338.20M413.40 338.20L415.10 341.10L416.80 338.20" fill="none" stroke="#f0f0f0" stroke-width="0.8"/></svg>
<svg x="398.0" y="351.30" width="28.1" height="14.6" viewBox="398.0 351.30 28.1 14.6"><rect x="398.0" y="351.30" width="28.1" height="15.2" fill="#3a3635"/><path d="M407.00 350.40L408.70 353.30L410.40 350.40M419.80 350.40L421.50 353.30L423.20 350.40M400.00 354.60L401.70 357.50L403.40 354.60M413.40 354.50L415.10 357.40L416.80 354.50M407.00 359.20L408.70 362.10L410.40 359.20M419.80 359.20L421.50 362.10L423.20 359.20M400.00 363.20L401.70 366.10L403.40 363.20M413.40 363.20L415.10 366.10L416.80 363.20" fill="none" stroke="#f0f0f0" stroke-width="0.8"/></svg>
<rect x="398.20" y="375.70" width="27.90" height="15.40" fill="#fff" stroke="#231f1e" stroke-width="0.95"/>
<path d="M401.10 382.40l1.200 2.200l1.200-2.200M406.10 382.40l1.200 2.200l1.200-2.200M411.20 382.40l1.200 2.200l1.200-2.200M416.50 382.40l1.200 2.200l1.200-2.200M421.50 382.40l1.200 2.200l1.200-2.200" fill="none" stroke="#6f6f6f" stroke-width="0.65"/>
<rect x="398.20" y="400.80" width="27.90" height="15.40" fill="#fff" stroke="#231f1e" stroke-width="0.95"/>
<g fill="#272220"><circle cx="403.7" cy="405.3" r="1.6"/><circle cx="411.3" cy="407.1" r="1.6"/><circle cx="417.8" cy="404.8" r="1.6"/><circle cx="405.5" cy="410.7" r="1.6"/><circle cx="417.1" cy="411.2" r="1.6"/></g>
<rect x="398.20" y="425.70" width="27.90" height="15.40" fill="#fff" stroke="#231f1e" stroke-width="0.95"/>
<g fill="#fff" stroke="#231f1e" stroke-width="0.8"><circle cx="402.3" cy="430.7" r="1.1"/><circle cx="408.5" cy="430.5" r="1.1"/><circle cx="413.7" cy="430.5" r="1.1"/><circle cx="418" cy="431.7" r="1.1"/><circle cx="403.8" cy="435.4" r="1.1"/><circle cx="409.3" cy="436" r="1.1"/><circle cx="413.4" cy="436" r="1.1"/><circle cx="420.6" cy="435.4" r="1.1"/></g>
<rect x="398.20" y="450.50" width="27.90" height="15.40" fill="#fff" stroke="#231f1e" stroke-width="0.95"/>
<g fill="#fff" stroke="#231f1e" stroke-width="0.8"><circle cx="403.100" cy="455.300" r="1.200"/><circle cx="402.300" cy="461.400" r="2.600"/><ellipse cx="409.300" cy="455.700" rx="1.700" ry="4.100" transform="rotate(24 409.300 455.700)"/><circle cx="415.900" cy="453.800" r="1.400"/><circle cx="408.500" cy="462.500" r="1.200"/><ellipse cx="418.400" cy="460.200" rx="6.400" ry="2.900"/></g>
<rect x="398.20" y="475.30" width="27.90" height="15.40" fill="#fff" stroke="#231f1e" stroke-width="0.95"/>
<path d="M407.500 478.300L413.400 481.800M418.600 478.900L421.300 483M401.900 486.800L406.400 483.600M411.300 485.900H417.800" stroke="#231f20" stroke-width="2.0" fill="none"/>
<g fill="#fff" stroke="#231f1e" stroke-width="1.0"><rect x="401.300" y="502.400" width="21.300" height="10.300" rx="3.2"/><ellipse cx="404.000" cy="507.550" rx="1.500" ry="3.700" stroke-width="1.1"/><path d="M406.300 503.000q1.400 4.500 0 9.100" fill="none" stroke-width="0.7"/><path d="M409.300 504.800H417.100M409.300 506.900H420.600M413.900 509H419.200" fill="none" stroke-width="1.0"/></g>
<g fill="#fff" stroke="#231f1e" stroke-width="1.25" stroke-linejoin="round"><path d="M418.900 530.700C421.500 531.600 421.500 535.700 418.900 536.600Z" fill="#231f1e"/><path d="M409.600 528.200C412.000 527.800 414.500 528.000 416.200 528.700C417.600 529.300 418.600 530.200 418.900 530.700L418.900 536.600C418.200 537.800 416.800 539.000 414.800 539.300C412.600 539.600 410.000 539.300 408.200 538.800Z"/><path d="M413.600 528.300Q415.900 533.800 413.200 539.300M416.500 529.000Q418.500 533.800 416.200 538.800" fill="none" stroke-width="1.0"/><path d="M405.300 525.100C403.600 526.400 402.600 529.600 403.200 532.600C403.900 536.000 405.600 538.600 408.200 538.800C410.600 538.900 412.100 536.400 412.000 533.400C411.900 530.800 411.000 529.200 409.600 528.200C407.800 527.400 406.400 526.600 405.300 525.100Z"/></g>
<rect x="398.20" y="549.70" width="27.90" height="15.40" fill="#fff" stroke="#231f1e" stroke-width="0.95"/>
<path d="M403.200 556.400q2.600-2 5.400-.6M401.600 560.800q2.400-2.400 5.400-2.200M409.400 558.600q3 1.600 5.400-.4M415.200 552.800q2.200 2.400 4.800 2.400M416 561.400q3.400.2 5.600-2.600" fill="none" stroke="#231f20" stroke-width="1.350" stroke-linecap="round"/>
<rect x="398.20" y="574.50" width="27.90" height="15.40" fill="#fff" stroke="#231f1e" stroke-width="0.95"/>
<path d="M406.7 577.4V586.6M403.5 584.8L406.7 581.4L409.9 584.8M417.6 578.8V588.0M414.40000000000003 586.1999999999999L417.6 582.8L420.8 586.1999999999999" fill="none" stroke="#231f20" stroke-width="1.2"/>
<rect x="398.20" y="599.50" width="27.90" height="15.40" fill="#fff" stroke="#231f1e" stroke-width="0.95"/>
<path d="M398.40 602.60q1.71 1.10 3.41 0q1.71 -1.10 3.41 0q1.71 1.10 3.41 0q1.71 -1.10 3.41 0q1.71 1.10 3.41 0q1.71 -1.10 3.41 0q1.71 1.10 3.41 0q1.71 -1.10 3.41 0M398.40 605.80q1.71 1.10 3.41 0q1.71 -1.10 3.41 0q1.71 1.10 3.41 0q1.71 -1.10 3.41 0q1.71 1.10 3.41 0q1.71 -1.10 3.41 0q1.71 1.10 3.41 0q1.71 -1.10 3.41 0M398.40 608.60q1.71 1.10 3.41 0q1.71 -1.10 3.41 0q1.71 1.10 3.41 0q1.71 -1.10 3.41 0q1.71 1.10 3.41 0q1.71 -1.10 3.41 0q1.71 1.10 3.41 0q1.71 -1.10 3.41 0M398.40 611.40q1.71 1.10 3.41 0q1.71 -1.10 3.41 0q1.71 1.10 3.41 0q1.71 -1.10 3.41 0q1.71 1.10 3.41 0q1.71 -1.10 3.41 0q1.71 1.10 3.41 0q1.71 -1.10 3.41 0" fill="none" stroke="#231f1e" stroke-width="0.6"/>
<path d="M402.900 624.200c2.200 .2 2.400 2.600 2.600 5.600c.2 3.200 .6 4.800 1.200 4.800c.8 0 1-1.800 1.200-4.800c.2-3 .6-5.200 2.400-5.600M414.200 626.600c2.200 .2 2.400 2.600 2.600 5.400c.2 3 .5 4.600 1.100 4.600c.8 0 1-1.800 1.200-4.600c.2-3 .6-5 2.400-5.400" fill="none" stroke="#231f1e" stroke-width="0.9" stroke-linecap="round"/>
<path d="M398.00 654.60H426.00" stroke="#231f20" stroke-width="1.5" fill="none"/>
</g>
</svg>
</body></html>
